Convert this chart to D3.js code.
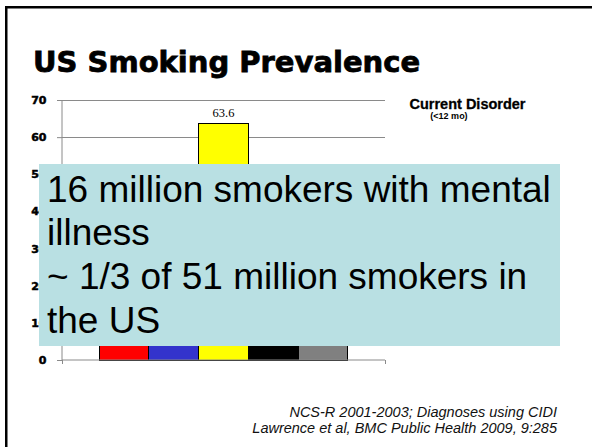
<!DOCTYPE html>
<html><head><meta charset="utf-8">
<script src="https://cdn.jsdelivr.net/npm/d3@7"></script>
<style>html,body{margin:0;padding:0;background:#fff;}svg{display:block;}</style>
</head><body>
<svg id="c" width="592" height="447"></svg>
<script>
const categories = ["Current Disorder"];
const seriesNames = ["S1", "S2", "S3", "S4", "S5"];
const seriesColors = ["#ff0000", "#3333cc", "#ffff00", "#000000", "#808080"];
const seriesValues = [36.1, 35.8, 63.6, 41.1, 32.4];
const shownLabels = [false, false, true, false, false];
const yTicks = [0, 10, 20, 30, 40, 50, 60, 70];
const titleText = "US Smoking Prevalence";
const overlayLines = ["16 million smokers with mental", "illness", "~ 1/3 of 51 million smokers in", "the US"];
const citeLines = ["NCS-R 2001-2003; Diagnoses using CIDI", "Lawrence et al, BMC Public Health 2009, 9:285"];

const svg = d3.select("#c");
svg.append("rect").attr("width",592).attr("height",447).attr("fill","#fff");
// slide frame
svg.append("rect").attr("x",5).attr("y",6).attr("width",587).attr("height",2.5).attr("fill","#000");
svg.append("rect").attr("x",5).attr("y",6).attr("width",2.5).attr("height",441).attr("fill","#000");

svg.append("text").attr("x",33).attr("y",71.5).text(titleText)
  .attr("font-family","DejaVu Sans").attr("font-weight","bold").attr("font-size",29)
  .attr("fill","#000").attr("stroke","#000").attr("stroke-width",0.8);

const plot = {left:62, right:385, top:100, bottom:360};
const y = d3.scaleLinear().domain([0,70]).range([plot.bottom, plot.top]);
const x0 = d3.scaleBand().domain(categories).range([plot.left, plot.right]).paddingInner(0).paddingOuter(0.1486);
const x1 = d3.scaleBand().domain(seriesNames).range([0, x0.bandwidth()]).padding(0);

// gridlines
svg.append("g").selectAll("line").data(yTicks.filter(t=>t>0)).join("line")
  .attr("x1",plot.left).attr("x2",plot.right).attr("y1",d=>y(d)).attr("y2",d=>y(d))
  .attr("stroke","#8a8a8a").attr("stroke-width",1).attr("shape-rendering","crispEdges");

// bars
const bars = seriesNames.map((s,i)=>({s, v:seriesValues[i], c:seriesColors[i], lab:shownLabels[i], cat:categories[0]}));
svg.append("g").selectAll("rect").data(bars).join("rect")
  .attr("x",d=>x0(d.cat)+x1(d.s)).attr("width",x1.bandwidth())
  .attr("y",d=>y(d.v)).attr("height",d=>y(0)-y(d.v))
  .attr("fill",d=>d.c).attr("stroke","#000").attr("stroke-width",1).attr("shape-rendering","crispEdges");
svg.append("g").selectAll("text").data(bars.filter(d=>d.lab)).join("text")
  .attr("x",d=>x0(d.cat)+x1(d.s)+x1.bandwidth()/2).attr("y",d=>y(d.v)-7)
  .attr("text-anchor","middle").attr("font-family","Liberation Serif").attr("font-size",12.5)
  .text(d=>d.v.toFixed(1));

// y axis
const ya = svg.append("g").attr("transform",`translate(${plot.left},0)`)
  .call(d3.axisLeft(y).tickValues(yTicks).tickSize(5).tickPadding(16).tickFormat(d3.format("d")));
ya.select(".domain").attr("stroke","#8a8a8a").attr("d",`M0,${plot.top}V${plot.bottom}`);
ya.selectAll(".tick line").attr("stroke","#8a8a8a");
ya.selectAll(".tick text").attr("x",-15.5).attr("font-family","DejaVu Sans").attr("font-weight","bold").attr("font-size",11)
  .attr("fill","#000").attr("stroke","#000").attr("stroke-width",0.5);

// x axis
const xa = svg.append("g").attr("transform",`translate(0,${plot.bottom})`)
  .call(d3.axisBottom(d3.scaleLinear().domain([0,1]).range([plot.left,plot.right])).tickValues([0,1]).tickSize(4).tickFormat(""));
xa.select(".domain").attr("stroke","#8a8a8a").attr("d",`M${plot.left},0H${plot.right}`);
xa.selectAll(".tick line").attr("stroke","#8a8a8a");

// legend title
svg.append("text").attr("x",467.5).attr("y",109).attr("text-anchor","middle")
  .attr("font-family","Liberation Sans").attr("font-weight","bold").attr("font-size",14.5)
  .attr("stroke","#000").attr("stroke-width",0.3).text(categories[0]);
svg.append("text").attr("x",449).attr("y",118.5).attr("text-anchor","middle")
  .attr("font-family","Liberation Sans").attr("font-weight","bold").attr("font-size",9).text("(<12 mo)");

// overlay box
svg.append("rect").attr("x",39).attr("y",164).attr("width",521).attr("height",182).attr("fill","#b9e0e3");
svg.append("g").selectAll("text").data(overlayLines).join("text")
  .attr("x",47).attr("y",(d,i)=>201.7+i*43.6)
  .attr("font-family","Liberation Sans").attr("font-size",37).attr("fill","#000").text(d=>d);

// citation
svg.append("g").selectAll("text").data(citeLines).join("text")
  .attr("x",557).attr("y",(d,i)=>416.7+i*16.5).attr("text-anchor","end")
  .attr("font-family","Liberation Sans").attr("font-style","italic").attr("font-size",14.5).attr("fill","#111").text(d=>d);
</script>
</body></html>
